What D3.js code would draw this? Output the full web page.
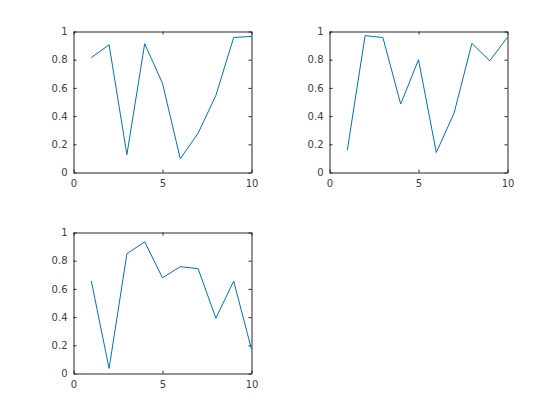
<!DOCTYPE html>
<html>
<head>
<meta charset="utf-8">
<script src="https://cdn.jsdelivr.net/npm/d3@7"></script>
<style>
  body { margin: 0; background: #fff; }
  svg { display: block; }
  .tick text { font-family: "DejaVu Sans", sans-serif; font-size: 10px; fill: #404040; }
  .domain, .tick line { stroke: #262626; }
</style>
</head>
<body>
<svg id="fig" width="560" height="420"></svg>
<script>
// x values shared by all three subplots
var xs = [1, 2, 3, 4, 5, 6, 7, 8, 9, 10];
var series1 = [0.8147, 0.9058, 0.1270, 0.9134, 0.6324, 0.0975, 0.2785, 0.5469, 0.9575, 0.9649];
var series2 = [0.1576, 0.9706, 0.9572, 0.4854, 0.8003, 0.1419, 0.4218, 0.9157, 0.7922, 0.9595];
var series3 = [0.6557, 0.0357, 0.8491, 0.9340, 0.6787, 0.7577, 0.7431, 0.3922, 0.6555, 0.1712];
var xTicks = [0, 5, 10];
var yTicks = [0, 0.2, 0.4, 0.6, 0.8, 1];

var svg = d3.select("#fig");

var panels = [
  { left: 73.5, top: 31.5, data: series1 },
  { left: 329.5, top: 31.5, data: series2 },
  { left: 73.5, top: 232.5, data: series3 }
];
var w = 178, h = 141;

panels.forEach(function (p) {
  var g = svg.append("g").attr("transform", "translate(" + p.left + "," + p.top + ")");
  var x = d3.scaleLinear().domain([0, 10]).range([0, w]);
  var y = d3.scaleLinear().domain([0, 1]).range([h, 0]);

  // bottom / left with labels, top / right mirrored ticks only
  g.append("g").attr("transform", "translate(0," + h + ")")
    .call(d3.axisBottom(x).tickValues(xTicks).tickSizeInner(-3).tickSizeOuter(0).tickPadding(7));
  g.append("g")
    .call(d3.axisLeft(y).tickValues(yTicks).tickFormat(d3.format("")).tickSizeInner(-3).tickSizeOuter(0).tickPadding(6));
  g.append("g")
    .call(d3.axisTop(x).tickValues(xTicks).tickFormat("").tickSizeInner(-3).tickSizeOuter(0));
  g.append("g").attr("transform", "translate(" + w + ",0)")
    .call(d3.axisRight(y).tickValues(yTicks).tickFormat("").tickSizeInner(-3).tickSizeOuter(0));

  var line = d3.line()
    .x(function (d, i) { return x(xs[i]); })
    .y(function (d) { return y(d); });

  g.append("path").datum(p.data)
    .attr("d", line)
    .attr("fill", "none")
    .attr("stroke", "#0072BD")
    .attr("stroke-width", 1);
});
</script>
</body>
</html>
